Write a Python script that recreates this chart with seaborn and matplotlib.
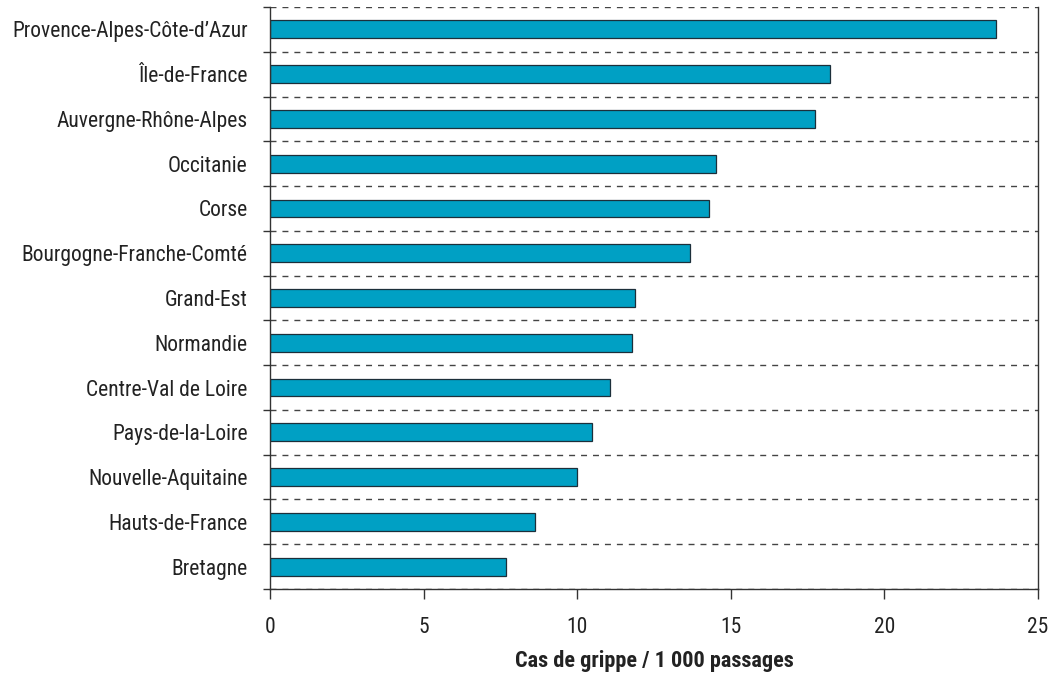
import matplotlib
matplotlib.use("Agg")
import matplotlib.pyplot as plt
import seaborn as sns
import pandas as pd
import numpy as np
from matplotlib.ticker import FixedLocator

regions = ["Provence-Alpes-Côte-d’Azur", "Île-de-France", "Auvergne-Rhône-Alpes",
           "Occitanie", "Corse", "Bourgogne-Franche-Comté", "Grand-Est", "Normandie",
           "Centre-Val de Loire", "Pays-de-la-Loire", "Nouvelle-Aquitaine",
           "Hauts-de-France", "Bretagne"]
values = [23.63, 18.23, 17.74, 14.52, 14.29, 13.67, 11.88, 11.78, 11.07, 10.48, 9.99, 8.63, 7.68]
xticks = [0, 5, 10, 15, 20, 25]

sns.set_theme(style="white")
plt.rcParams['font.family'] = ['Roboto Condensed', 'Liberation Sans Narrow',
                               'Archivo Narrow', 'Barlow Condensed', 'DejaVu Sans']

df = pd.DataFrame({"region": regions, "value": values})

fig = plt.figure(figsize=(10.5, 6.73), dpi=100)
ax = fig.add_axes([270/1050, 1-589/673, (1038-270)/1050, (589-7)/673])

sns.barplot(data=df, y="region", x="value", orient="h", color="#00A0C4",
            width=0.4, edgecolor="#1c2f3a", linewidth=0.9, saturation=1, ax=ax)

n = len(regions)
ax.set_ylim(n - 0.5, -0.5)
ax.set_xlim(0, 25)
ax.set_xticks(xticks)
ax.set_xticklabels([str(t) for t in xticks], fontsize=15.5, color="#222222")
ax.set_yticklabels(regions, fontsize=15.5, color="#222222")
ax.tick_params(axis="y", which="major", length=0, pad=16)
ax.yaxis.set_minor_locator(FixedLocator(np.arange(-0.5, n, 1.0)))
ax.tick_params(axis="y", which="minor", length=5, width=1, color="#333333", left=True)
ax.tick_params(axis="x", which="major", length=7, width=1, color="#333333", bottom=True, pad=13)
ax.grid(False)
for b in np.arange(-0.5, n, 1.0):
    ax.axhline(b, color="#444444", lw=1, ls=(0, (4.3, 4.3)), zorder=0)

for s in ["left", "bottom", "right"]:
    ax.spines[s].set_visible(True)
    ax.spines[s].set_color("#333333")
    ax.spines[s].set_linewidth(1)
ax.spines["top"].set_visible(False)

ax.set_ylabel("")
ax.set_xlabel("Cas de grippe / 1 000 passages", fontsize=16, fontweight="bold",
              color="#222222", labelpad=9)

fig.savefig("out.png", dpi=100)
